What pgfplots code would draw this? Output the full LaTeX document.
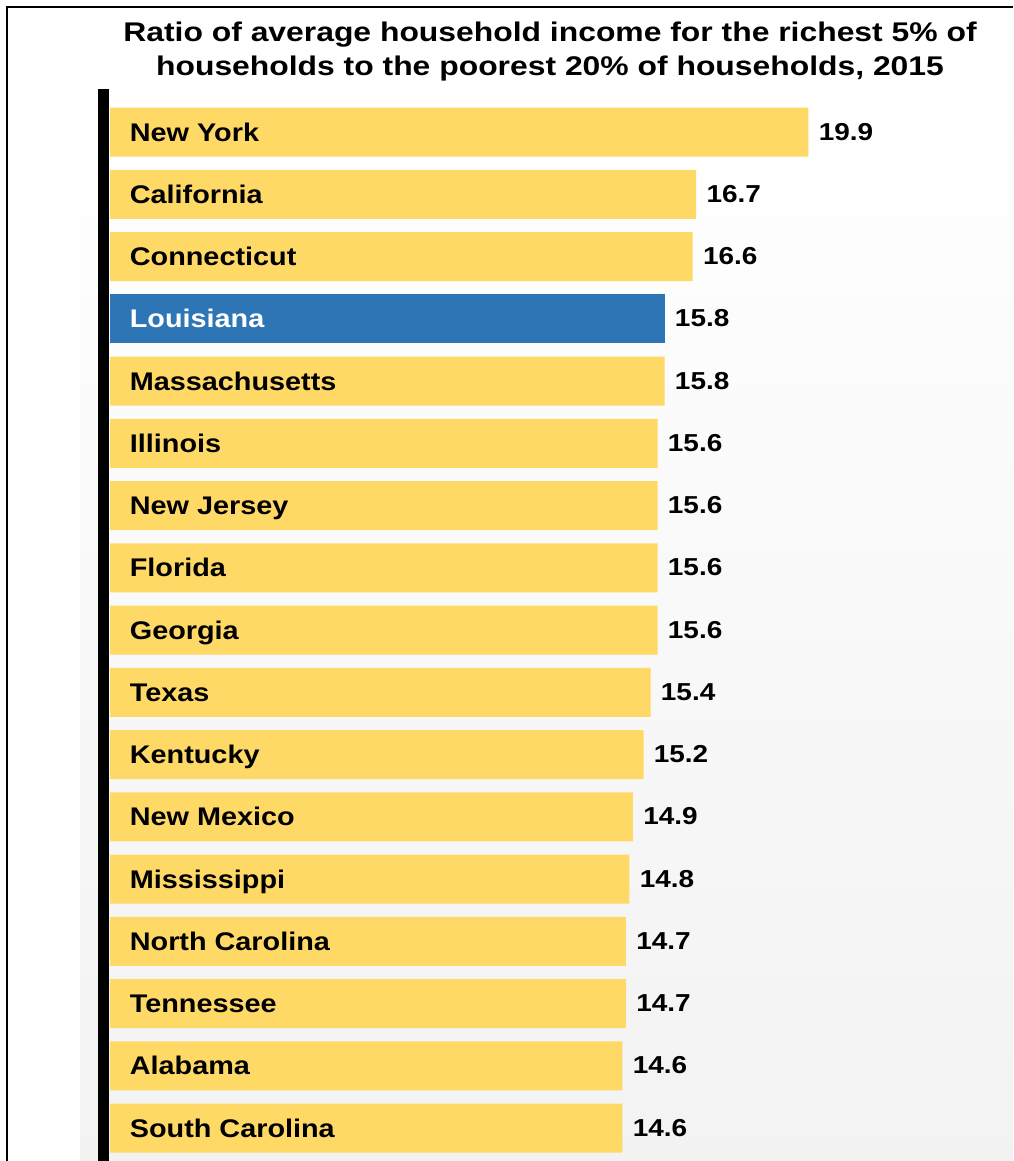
\documentclass[border=0pt]{standalone}
\usepackage{pgfplots}
\pgfplotsset{compat=1.18}
\usepackage{fontspec}
\setmainfont{Liberation Sans}
\newfontface\titlefont[FakeStretch=1.18]{Liberation Sans Bold}
\newfontface\labfont[FakeStretch=1.13]{Liberation Sans Bold}
\newfontface\valfont[FakeStretch=1.14]{Liberation Sans Bold}
\definecolor{baryellow}{HTML}{FFD966}
\definecolor{barblue}{HTML}{2E75B6}
\begin{document}
\begin{tikzpicture}
\path[use as bounding box] (0,0) rectangle (506.5pt,-580.5pt);
\fill[white] (0,0) rectangle (506.5pt,-580.5pt);
\shade[top color=white, bottom color=black!5] (40pt,-45pt) rectangle (506.5pt,-580.5pt);
\draw[line width=0.8pt] (3.5pt,-580.5pt) -- (3.5pt,-3.5pt) -- (506.5pt,-3.5pt);
\node[font={\titlefont\fontsize{13.5pt}{17pt}\selectfont}, align=center] at (275pt,-25.8pt)
  {Ratio of average household income for the richest 5\% of\\households to the poorest 20\% of households, 2015};
\begin{axis}[
  at={(55pt,-50.44pt)}, anchor=north west,
  axis on top,
  scale only axis, width=438.75pt, height=529.125pt,
  xmin=0, xmax=25, ymin=-0.5, ymax=16.5, y dir=reverse,
  xbar, bar width=24.5pt, bar shift=0pt,
  axis line style={draw=none}, tick style={draw=none},
  xtick=\empty, ytick={0,...,16},
  yticklabels={New York, California, Connecticut, \textcolor{white}{Louisiana}, Massachusetts, Illinois, New Jersey, Florida, Georgia, Texas, Kentucky, New Mexico, Mississippi, North Carolina, Tennessee, Alabama, South Carolina},
  yticklabel style={anchor=west, xshift=14pt, yshift=-1pt, inner sep=0pt, text height=0.72em, text depth=0pt,
    font={\labfont\fontsize{12.75pt}{15pt}\selectfont}},
  nodes near coords={\pgfmathprintnumber[fixed,fixed zerofill,precision=1,assume math mode=true]{\pgfplotspointmeta}},
  point meta=x,
  nodes near coords style={anchor=west, xshift=5pt, yshift=-0.5pt, inner sep=0pt, text height=0.72em, text depth=0pt,
    font={\valfont\fontsize{12.25pt}{15pt}\selectfont}, black},
  clip=false,
]
\addplot[fill=baryellow, draw=none] coordinates {
(19.9,0) (16.7,1) (16.6,2) (15.8,4) (15.6,5) (15.6,6) (15.6,7) (15.6,8) (15.4,9) (15.2,10) (14.9,11) (14.8,12) (14.7,13) (14.7,14) (14.6,15) (14.6,16)};
\addplot[fill=barblue, draw=none] coordinates {(15.8,3)};
\end{axis}
\draw[line width=5.5pt] (51.5pt,-44.5pt) -- (51.5pt,-580.5pt);
\end{tikzpicture}
\end{document}
